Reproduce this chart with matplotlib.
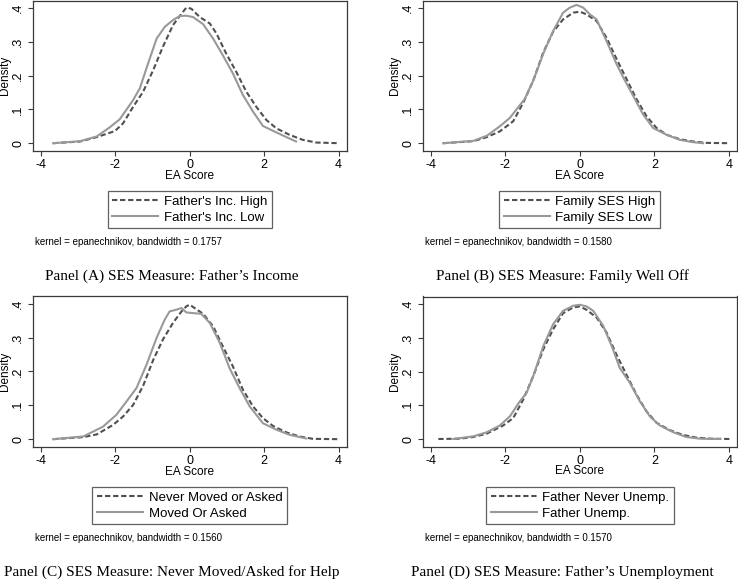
import numpy as np
import matplotlib
matplotlib.use("Agg")
import matplotlib.pyplot as plt
from matplotlib.lines import Line2D

W, H = 738, 580

# ---- data (EA score, density) ----
a_high_x = [-3.67, -2.95, -2.5, -2.01, -1.79, -1.52, -1.25, -0.98, -0.72, -0.45, -0.22, -0.09, 0.04,
            0.27, 0.54, 0.72, 0.98, 1.25, 1.52, 1.79, 2.06, 2.33, 2.68, 3.04, 3.4, 4.02]
a_high_y = [0, 0.005, 0.018, 0.036, 0.059, 0.108, 0.153, 0.217, 0.286, 0.35, 0.384, 0.402, 0.399,
            0.374, 0.355, 0.325, 0.266, 0.212, 0.153, 0.108, 0.069, 0.044, 0.025, 0.01, 0.002, 0]
a_low_x = [-3.67, -2.95, -2.5, -2.15, -1.88, -1.52, -1.34, -1.12, -0.89, -0.67, -0.45, -0.27, -0.09,
           0.09, 0.36, 0.63, 0.89, 1.16, 1.43, 1.7, 1.97, 2.33, 2.6, 2.86]
a_low_y = [0, 0.006, 0.02, 0.047, 0.071, 0.128, 0.163, 0.236, 0.31, 0.345, 0.365, 0.377, 0.378,
           0.374, 0.353, 0.31, 0.261, 0.207, 0.143, 0.094, 0.051, 0.032, 0.018, 0.005]

b_high_x = [-3.67, -2.86, -2.5, -2.15, -1.79, -1.52, -1.25, -0.98, -0.72, -0.45, -0.18, 0.0, 0.18,
            0.45, 0.72, 0.98, 1.25, 1.52, 1.79, 2.06, 2.33, 2.68, 3.04, 3.4, 4.02]
b_high_y = [0, 0.006, 0.018, 0.035, 0.065, 0.12, 0.186, 0.27, 0.33, 0.367, 0.387, 0.39, 0.382,
            0.362, 0.312, 0.251, 0.191, 0.131, 0.08, 0.045, 0.025, 0.012, 0.005, 0.001, 0]
b_low_x = [-3.67, -2.86, -2.5, -2.15, -1.88, -1.61, -1.48, -1.25, -0.98, -0.72, -0.45, -0.27, -0.09,
           0.09, 0.27, 0.45, 0.72, 0.98, 1.16, 1.43, 1.7, 1.97, 2.33, 2.68, 3.04, 3.31]
b_low_y = [0, 0.007, 0.022, 0.05, 0.075, 0.113, 0.131, 0.186, 0.266, 0.332, 0.387, 0.402, 0.41,
           0.402, 0.382, 0.367, 0.302, 0.236, 0.196, 0.141, 0.085, 0.045, 0.025, 0.01, 0.003, 0]

c_high_x = [-3.67, -2.86, -2.5, -2.06, -1.79, -1.52, -1.25, -0.98, -0.72, -0.45, -0.22, -0.09, 0.0,
            0.13, 0.36, 0.63, 0.89, 1.16, 1.43, 1.7, 1.97, 2.24, 2.6, 2.95, 3.31, 4.02]
c_high_y = [0, 0.006, 0.014, 0.042, 0.067, 0.101, 0.158, 0.234, 0.294, 0.343, 0.377, 0.392, 0.397,
            0.387, 0.37, 0.333, 0.274, 0.215, 0.146, 0.097, 0.062, 0.039, 0.02, 0.008, 0.001, 0]
c_low_x = [-3.67, -2.86, -2.33, -1.97, -1.7, -1.43, -1.16, -0.89, -0.67, -0.54, -0.36, -0.22, -0.09,
           0.09, 0.31, 0.54, 0.81, 1.07, 1.34, 1.61, 1.97, 2.33, 2.68, 3.13]
c_low_y = [0, 0.008, 0.037, 0.072, 0.111, 0.151, 0.22, 0.299, 0.353, 0.377, 0.382, 0.387, 0.374,
           0.372, 0.37, 0.343, 0.284, 0.21, 0.151, 0.097, 0.047, 0.028, 0.013, 0.002]

d_high_x = [-3.8, -3.22, -2.86, -2.5, -2.06, -1.79, -1.52, -1.25, -0.98, -0.72, -0.45, -0.18, 0.0,
            0.18, 0.45, 0.72, 0.98, 1.25, 1.52, 1.79, 2.06, 2.42, 2.77, 3.13, 3.49, 4.02]
d_high_y = [0, 0.001, 0.006, 0.016, 0.04, 0.062, 0.117, 0.187, 0.266, 0.325, 0.373, 0.39, 0.393,
            0.383, 0.36, 0.315, 0.251, 0.191, 0.132, 0.082, 0.048, 0.026, 0.012, 0.004, 0.001, 0]
d_low_x = [-3.4, -2.86, -2.5, -2.15, -1.88, -1.61, -1.43, -1.25, -0.98, -0.72, -0.45, -0.18, 0.0,
           0.18, 0.36, 0.63, 0.89, 1.07, 1.34, 1.61, 1.88, 2.15, 2.51, 2.86, 3.22, 3.76]
d_low_y = [0, 0.008, 0.02, 0.04, 0.067, 0.112, 0.137, 0.187, 0.276, 0.34, 0.38, 0.395, 0.398,
           0.393, 0.38, 0.335, 0.266, 0.211, 0.167, 0.112, 0.067, 0.04, 0.02, 0.006, 0.001, 0]

panels = [
	{"box": (32.7, 0.7, 346.7, 150.7), "high": (a_high_x, a_high_y), "low": (a_low_x, a_low_y),
	 "labels": ["Father's Inc. High", "Father's Inc. Low"], "bw": "0.1757",
	 "title": "Panel (A) SES Measure: Father\u2019s Income", "title_x": 172, "legend_top": 190.7},
	{"box": (422.7, 0.7, 737.0, 150.7), "high": (b_high_x, b_high_y), "low": (b_low_x, b_low_y),
	 "labels": ["Family SES High", "Family SES Low"], "bw": "0.1580",
	 "title": "Panel (B) SES Measure: Family Well Off", "title_x": 562, "legend_top": 190.7},
	{"box": (32.7, 296.0, 346.7, 446.7), "high": (c_high_x, c_high_y), "low": (c_low_x, c_low_y),
	 "labels": ["Never Moved or Asked", "Moved Or Asked"], "bw": "0.1560",
	 "title": "Panel (C) SES Measure: Never Moved/Asked for Help", "title_x": 172, "legend_top": 486.7},
	{"box": (422.7, 296.5, 737.0, 446.5), "high": (d_high_x, d_high_y), "low": (d_low_x, d_low_y),
	 "labels": ["Father Never Unemp.", "Father Unemp."], "bw": "0.1570",
	 "title": "Panel (D) SES Measure: Father\u2019s Unemployment", "title_x": 562, "legend_top": 486.7},
]

sans = "Liberation Sans"
serif = "Liberation Serif"
dark = "#505050"
light = "#999999"
frame = "#3a3a3a"
dash = (3.8, 2.0)
lw = 1.5

plt.rcParams["lines.scale_dashes"] = False

fig = plt.figure(figsize=(W / 100, H / 100), dpi=100)

def fx(x):
	return x / W

def fy(y):
	return 1 - y / H

for p in panels:
	x0, y0, x1, y1 = p["box"]
	ax = fig.add_axes([fx(x0), fy(y1), (x1 - x0) / W, (y1 - y0) / H])
	ax.plot(p["high"][0], p["high"][1], color=dark, lw=lw, dashes=dash)
	ax.plot(p["low"][0], p["low"][1], color=light, lw=lw)
	ax.set_xlim(-4.22, 4.22)
	ax.set_ylim(-0.0222, 0.4225)
	ax.set_xticks([-4, -2, 0, 2, 4])
	ax.set_xticklabels(["-4", "-2", "0", "2", "4"], fontfamily=sans, fontsize=9)
	ax.set_yticks([0, .1, .2, .3, .4])
	ax.set_yticklabels(["0", ".1", ".2", ".3", ".4"], fontfamily=sans, fontsize=9,
		rotation=90, va="center")
	ax.tick_params(direction="out", length=3.5, width=0.8, color=frame, pad=2.5)
	for s in ax.spines.values():
		s.set_color(frame)
		s.set_linewidth(0.9)

	xc = (x0 + x1) / 2
	fig.text(fx(x0 - 27.7), fy((y0 + y1) / 2), "Density", rotation=90, ha="center", va="center",
		fontfamily=sans, fontsize=8.5)
	fig.text(fx(xc), fy(y1 + 25), "EA Score", ha="center", va="center",
		fontfamily=sans, fontsize=8.5)

	handles = [
		Line2D([], [], color=dark, lw=lw, dashes=dash),
		Line2D([], [], color=light, lw=lw),
	]
	leg = fig.legend(handles, p["labels"], loc="upper center",
		bbox_to_anchor=(fx(xc), fy(p["legend_top"])), borderaxespad=0,
		prop={"family": sans, "size": 9.5}, frameon=True, fancybox=False,
		handlelength=3.5, handletextpad=0.4, labelspacing=0.3, borderpad=0.35)
	leg.get_frame().set_edgecolor(frame)
	leg.get_frame().set_linewidth(0.9)

	fig.text(fx(x0 + 2.5), fy(p["legend_top"] + 51), "kernel = epanechnikov, bandwidth = " + p["bw"],
		ha="left", va="center", fontfamily=sans, fontsize=7)
	fig.text(fx(p["title_x"]), fy(p["legend_top"] + 85.5), p["title"], ha="center", va="center",
		fontfamily=serif, fontsize=11)

fig.savefig("out.png", dpi=100)
